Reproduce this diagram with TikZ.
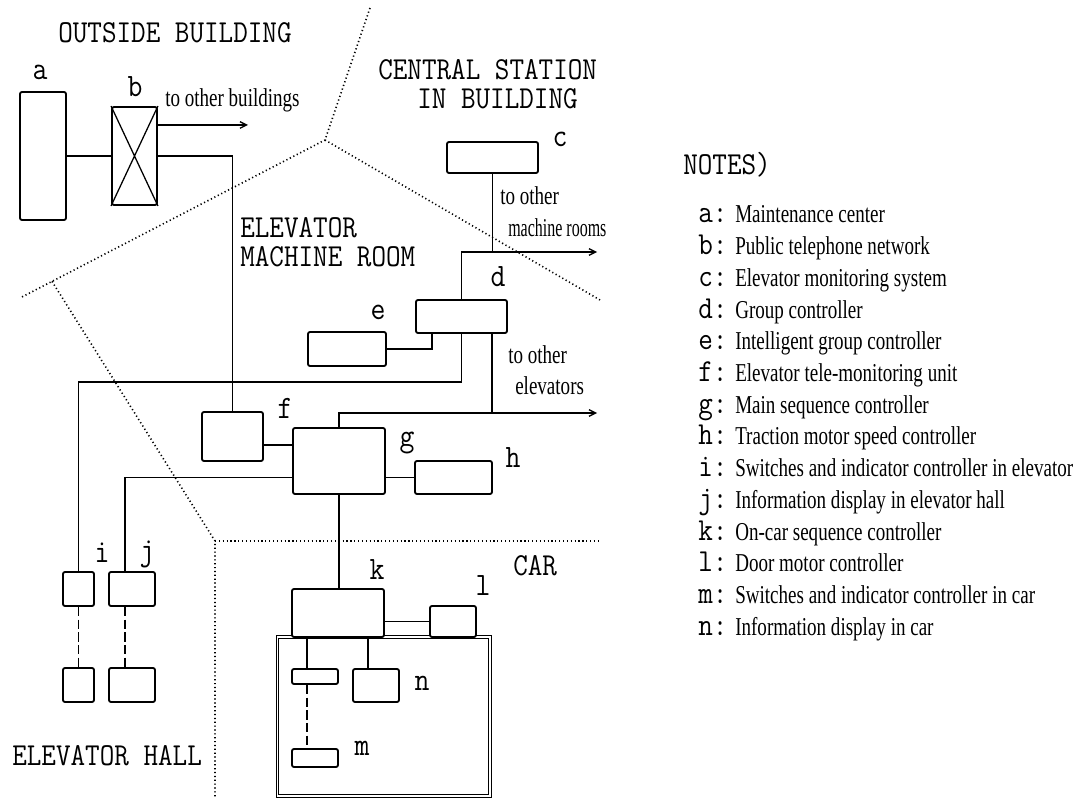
\documentclass[tikz,border=0pt]{standalone}
\usepackage{fontspec}
\usepackage{graphicx}
\usetikzlibrary{fit,arrows.meta}
\newfontfamily\condfont[FakeStretch=0.74]{Liberation Serif}
\newcommand\pl[1]{\scalebox{0.885}[1]{#1}}
\begin{document}
\begin{tikzpicture}[x=0.75pt,y=-0.75pt,
  blk/.style={draw, line width=1.4pt, rounded corners=1.5pt, inner sep=0pt, fill=white},
  ln/.style={line width=0.95pt},
  arr/.style={ln, -{Straight Barb[length=5pt,width=5pt]}},
  bound/.style={line width=1.2pt, dash pattern=on 0.9pt off 2pt},
  dsh/.style={ln, dash pattern=on 7pt off 2.5pt},
  capt/.style={font=\ttfamily\fontsize{24pt}{26pt}\selectfont, inner sep=0pt, anchor=base west},
  lab/.style={font=\ttfamily\fontsize{24.5pt}{28pt}\selectfont, inner sep=0pt, anchor=base},
  desc/.style={font=\condfont\fontsize{19.3pt}{22pt}\selectfont, inner sep=0pt, anchor=base west},
  carline/.style={draw, line width=0.5pt, double=white, double distance=1.4pt}]
\fill[white] (0,0) rectangle (1078,798);
\useasboundingbox (0,0) rectangle (1078,798);

% region boundaries
\draw[bound] (370,8) -- (325,140) -- (20,298);
\draw[bound] (325,140) -- (600,300);
\draw[bound] (52,281.4) -- (215,541) -- (215,798);
\draw[bound] (215,541) -- (598,541);

% car outline
\draw[carline] (277.5,637) rectangle (490,796);

% region captions
\node[capt] (tout) at (58,43) {\pl{OUTSIDE BUILDING}};
\node[capt] (tcen1) at (378,80) {\pl{CENTRAL STATION}};
\node[capt] (tcen2) at (417,109) {\pl{IN BUILDING}};
\node[capt] (tmr1) at (240,238) {\pl{ELEVATOR}};
\node[capt] (tmr2) at (240,267) {\pl{MACHINE ROOM}};
\node[capt] (tcar) at (513,575) {\pl{CAR}};
\node[capt] (thall) at (12,765) {\pl{ELEVATOR HALL}};

% boxes
\node[blk, fit={(20,92) (66,220)}] (a) {};
\node[blk, fit={(112,107) (157,205)}] (b) {};
\draw[ln] (b.north west) -- (b.south east) (b.north east) -- (b.south west);
\node[blk, fit={(447,142) (538,173)}] (c) {};
\node[blk, fit={(416,300) (507,333)}] (d) {};
\node[blk, fit={(308,332) (386,366)}] (e) {};
\node[blk, fit={(202,412) (263,461)}] (f) {};
\node[blk, fit={(293,428) (385,494)}] (g) {};
\node[blk, fit={(415,461) (492,494)}] (h) {};
\node[blk, fit={(63,572) (94,606)}] (i) {};
\node[blk, fit={(63,668) (94,702)}] (i2) {};
\node[blk, fit={(109,572) (155,606)}] (j) {};
\node[blk, fit={(109,668) (155,702)}] (j2) {};
\node[blk, fit={(292,589) (384,637)}] (k) {};
\node[blk, fit={(430,606) (476,637)}] (l) {};
\node[blk, fit={(292,669) (338,684)}] (m1) {};
\node[blk, fit={(292,749) (338,767)}] (m2) {};
\node[blk, fit={(353,669) (399,702)}] (n) {};

% box labels
\node[lab] (la) at (40,80) {\pl{a}};
\node[lab] (lb) at (135,97) {\pl{b}};
\node[lab] (lc) at (560,147) {\pl{c}};
\node[lab] (ld) at (498,287) {\pl{d}};
\node[lab] (le) at (378,320) {\pl{e}};
\node[lab] (lf) at (285,418) {\pl{f}};
\node[lab] (lg) at (407,446) {\pl{g}};
\node[lab] (lh) at (513,467) {\pl{h}};
\node[lab] (li) at (102,562) {\pl{i}};
\node[lab] (lj) at (147,560) {\pl{j}};
\node[lab] (lk) at (377,579) {\pl{k}};
\node[lab] (ll) at (483,595) {\pl{l}};
\node[lab] (ln) at (422,690) {\pl{n}};
\node[lab] (lm) at (362,755) {\pl{m}};

% helper coordinates
\coordinate (tob) at (248,125);
\coordinate (tomr) at (597,252);
\coordinate (toel) at (597,413);
\coordinate (ry) at (0,382);
\coordinate (dex) at (432,0);
\coordinate (dgx) at (492,0);
\coordinate (fgy) at (0,445);
\coordinate (jx) at (125,0);
\coordinate (mx) at (307,0);
\coordinate (nx) at (368,0);

% arrow texts
\node[desc] (ttob) at (165,107) {to other buildings};
\node[desc] (ttomr1) at (500,205) {to other};
\node[desc] (ttomr2) at (508,237) {\scalebox{0.84}[1]{machine rooms}};
\node[desc] (ttoel1) at (508,364) {to other};
\node[desc] (ttoel2) at (515,395) {elevators};

% connectors
\draw[ln] (a.east) -- (b.west);
\draw[arr] (b.east |- tob) -- (tob);
\draw[ln] (b.east) -| (f.north);
\draw[ln] (c.south) -- (c.south |- tomr);
\draw[arr] (d.north) |- (tomr);
\draw[ln] (d.south) -- (d.south |- ry) -| (i.north);
\draw[ln] (e.east) -| (d.south -| dex);
\draw[ln] (d.south -| dgx) -- (dgx |- toel);
\draw[arr] (g.north) |- (toel);
\draw[ln] (f.east |- fgy) -- (g.west |- fgy);
\draw[ln] (g.east |- h) -- (h.west);
\draw[ln] (g.west |- h) -| (j.north -| jx);
\draw[dsh] (i.south) -- (i2.north);
\draw[dsh] (j.south -| jx) -- (j2.north -| jx);
\draw[ln] (g.south) -- (g.south |- k.north);
\draw[ln] (k.east |- l) -- (l.west);
\draw[ln] (k.south -| mx) -- (m1.north -| mx);
\draw[dsh] (m1.south -| mx) -- (m2.north -| mx);
\draw[ln] (k.south -| nx) -- (n.north -| nx);

% notes
\node[capt] (tnotes) at (683,175) {\pl{NOTES)}};
\foreach \kk/\tt [count=\nn from 0] in {
  a/Maintenance center,
  b/Public telephone network,
  c/Elevator monitoring system,
  d/Group controller,
  e/Intelligent group controller,
  f/Elevator tele-monitoring unit,
  g/Main sequence controller,
  h/Traction motor speed controller,
  i/Switches and indicator controller in elevator,
  j/Information display in elevator hall,
  k/On-car sequence controller,
  l/Door motor controller,
  m/Switches and indicator controller in car,
  n/Information display in car} {
  \node[capt] (key\kk) at (698,{223+31.7*\nn}) {\pl{\kk:}};
  \node[desc] (txt\kk) at (735,{223+31.7*\nn}) {\tt};
}
\end{tikzpicture}
\end{document}
